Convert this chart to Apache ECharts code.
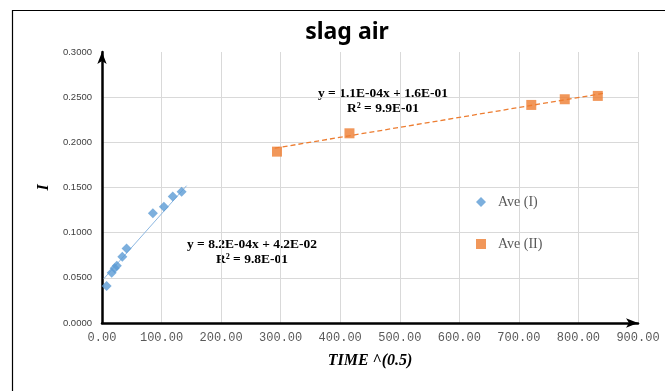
<!DOCTYPE html>
<html>
<head>
<meta charset="utf-8">
<script src="https://cdn.jsdelivr.net/npm/echarts@6/dist/echarts.min.js"></script>
<style>
html, body { margin: 0; padding: 0; background: #fff; }
#chart { width: 665px; height: 391px; }
</style>
</head>
<body>
<div id="chart"></div>
<script>
// values
var aveIx = [7.8, 16.3, 21.3, 24.9, 34.1, 41.2, 85.4, 103.9, 118.8, 133.7];
var aveIy = [0.0410, 0.0557, 0.0605, 0.0634, 0.0734, 0.0826, 0.1214, 0.1288, 0.1399, 0.1454];
var aveIIx = [293.8, 415.5, 720.8, 777.0, 832.5];
var aveIIy = [0.1897, 0.2100, 0.2414, 0.2477, 0.2514];
// trendline end points
var trendIx = [3, 142];
var trendIy = [0.049, 0.152];
var trendIIx = [290, 841];
var trendIIy = [0.1935, 0.2541];
var seriesNames = ['Ave (I)', 'Ave (II)'];
var eqI = ['y = 8.2E-04x + 4.2E-02', 'R² = 9.8E-01'];
var eqII = ['y = 1.1E-04x + 1.6E-01', 'R² = 9.9E-01'];

function pairs(xs, ys) {
	var out = [];
	for (var i = 0; i < xs.length; i++) out.push([xs[i], ys[i]]);
	return out;
}

var myChart = echarts.init(document.getElementById('chart'));
var eqFont = 'bold 13.5px "Liberation Serif"';
var option = {
	backgroundColor: '#fff',
	animation: false,
	title: {
		text: 'slag air',
		left: 342,
		top: 16,
		textAlign: 'center',
		textStyle: {
			fontFamily: 'Noto Sans',
			fontWeight: 'bold',
			fontSize: 23,
			color: '#000'
		}
	},
	legend: {
		data: [
			{ name: seriesNames[0], icon: 'diamond' },
			{ name: seriesNames[1], icon: 'rect' }
		],
		orient: 'vertical',
		left: 471,
		top: 190,
		itemWidth: 10,
		itemHeight: 10,
		itemGap: 28,
		textStyle: {
			fontFamily: 'Liberation Serif',
			fontSize: 14,
			color: '#595959',
			padding: [0, 0, 0, 7]
		}
	},
	grid: {
		left: 102,
		right: 27,
		top: 52,
		bottom: 68
	},
	xAxis: {
		type: 'value',
		min: 0,
		max: 900,
		interval: 100,
		name: 'TIME ^(0.5)',
		nameLocation: 'middle',
		nameGap: 30,
		nameTextStyle: {
			fontFamily: 'Liberation Serif',
			fontStyle: 'italic',
			fontWeight: 'bold',
			fontSize: 16,
			color: '#000'
		},
		axisLine: {
			lineStyle: { color: '#000', width: 2.5 },
			symbol: ['none', 'arrow'],
			symbolSize: [7, 12]
		},
		axisTick: { show: false },
		axisLabel: {
			margin: 9,
			fontFamily: 'Liberation Mono',
			fontSize: 12,
			color: '#595959',
			formatter: function (v) { return v.toFixed(2); }
		},
		splitLine: { lineStyle: { color: '#d9d9d9', width: 1 } }
	},
	yAxis: {
		type: 'value',
		min: 0,
		max: 0.3,
		interval: 0.05,
		name: 'I',
		nameLocation: 'middle',
		nameGap: 46,
		nameRotate: 90,
		nameTextStyle: {
			fontFamily: 'Liberation Serif',
			fontStyle: 'italic',
			fontWeight: 'bold',
			fontSize: 16,
			color: '#000'
		},
		axisLine: {
			lineStyle: { color: '#000', width: 2.5 },
			symbol: ['none', 'arrow'],
			symbolSize: [7, 12]
		},
		axisTick: { show: false },
		axisLabel: {
			margin: 10,
			fontFamily: 'Liberation Sans',
			fontSize: 9.5,
			color: '#404040',
			formatter: function (v) { return v.toFixed(4); }
		},
		splitLine: { showMaxLine: false, lineStyle: { color: '#d9d9d9', width: 1 } }
	},
	series: [
		{
			name: 'trend I',
			type: 'line',
			data: pairs(trendIx, trendIy),
			symbol: 'none',
			lineStyle: { color: '#8db8e2', width: 1 },
			z: 1
		},
		{
			name: 'trend II',
			type: 'line',
			data: pairs(trendIIx, trendIIy),
			symbol: 'none',
			lineStyle: { color: '#ed7d31', width: 1.3, type: [5, 3] },
			z: 1
		},
		{
			name: seriesNames[0],
			type: 'scatter',
			data: pairs(aveIx, aveIy),
			symbol: 'diamond',
			symbolSize: 10,
			itemStyle: { color: '#5b9bd5' },
			z: 3
		},
		{
			name: seriesNames[1],
			type: 'scatter',
			data: pairs(aveIIx, aveIIy),
			symbol: 'rect',
			symbolSize: 10,
			itemStyle: { color: '#ed7d31' },
			z: 3
		}
	],
	graphic: [
		{
			type: 'rect',
			left: 10,
			top: 8,
			shape: { width: 700, height: 420 },
			style: { fill: 'none', stroke: '#000', lineWidth: 1.2 },
			silent: true
		},
		{
			type: 'text', x: 383, y: 94,
			style: { text: eqII[0], font: eqFont, fill: '#000', align: 'center', verticalAlign: 'middle' }
		},
		{
			type: 'text', x: 383, y: 109,
			style: { text: eqII[1], font: eqFont, fill: '#000', align: 'center', verticalAlign: 'middle' }
		},
		{
			type: 'text', x: 252, y: 245,
			style: { text: eqI[0], font: eqFont, fill: '#000', align: 'center', verticalAlign: 'middle' }
		},
		{
			type: 'text', x: 252, y: 260,
			style: { text: eqI[1], font: eqFont, fill: '#000', align: 'center', verticalAlign: 'middle' }
		}
	]
};
myChart.setOption(option);
</script>
</body>
</html>
